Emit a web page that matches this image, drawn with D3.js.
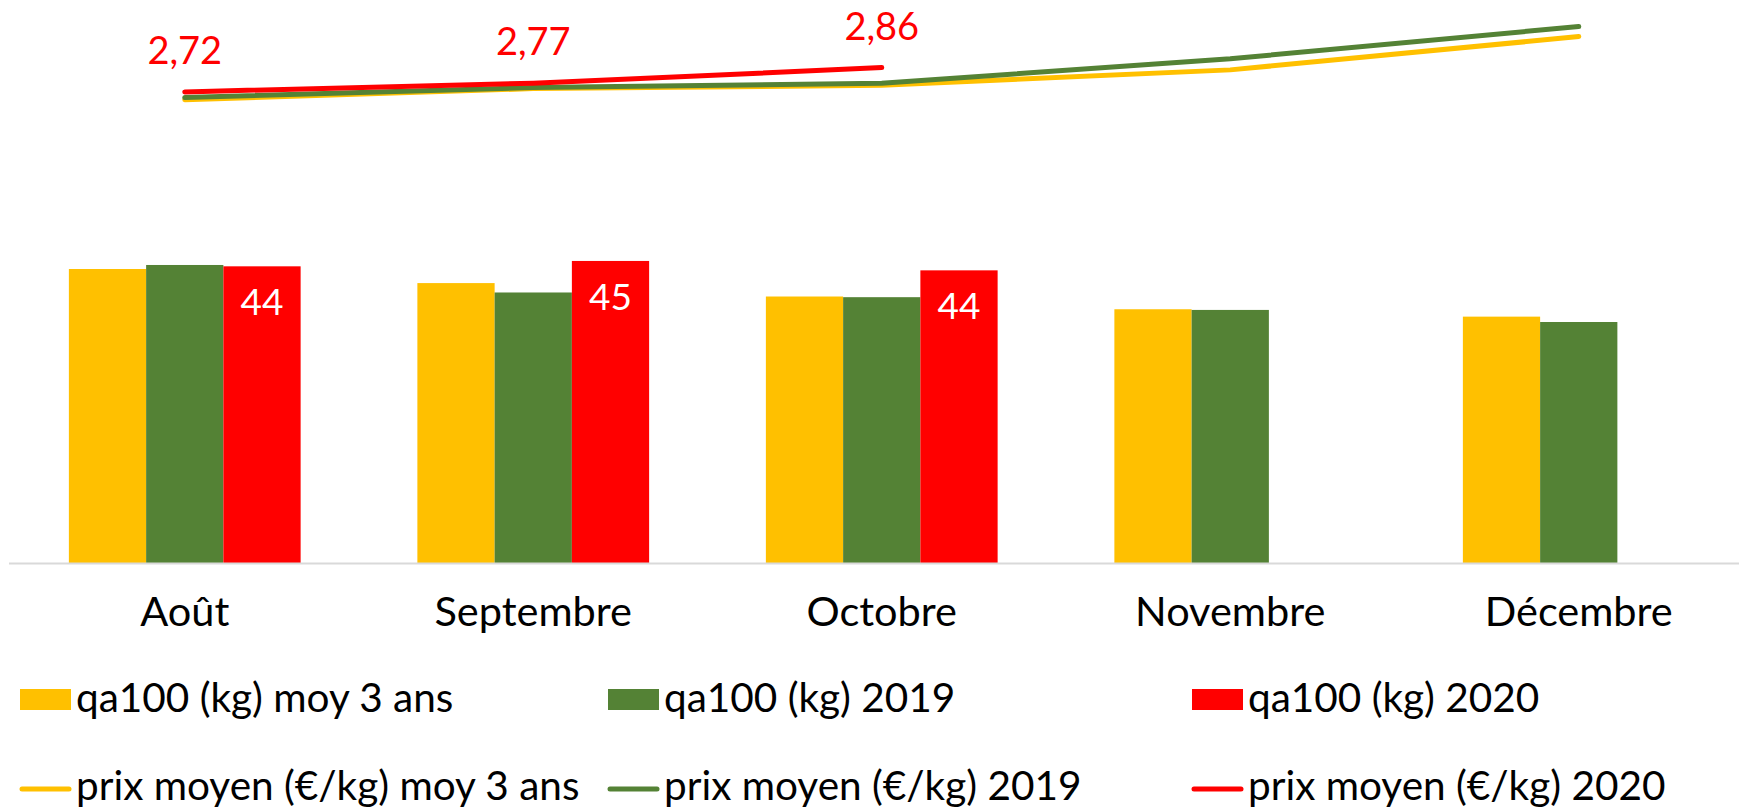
<!DOCTYPE html>
<html>
<head>
<meta charset="utf-8">
<script src="https://cdn.jsdelivr.net/npm/d3@7"></script>
<style>
	html, body { margin: 0; padding: 0; background: #fff; }
	svg { display: block; font-family: Lato, "Open Sans", sans-serif; }
</style>
</head>
<body>
<svg id="chart" width="1739" height="808"></svg>
<script>

// Months shown on the x axis
var months = ['Août', 'Septembre', 'Octobre', 'Novembre', 'Décembre'];

// qa100 (kg) per month
var qaMoy3Ans = [43.9, 41.8, 39.8, 37.9, 36.8];
var qa2019 = [44.5, 40.4, 39.7, 37.8, 36.0];
var qa2020 = [44.3, 45.1, 43.7];
var qa2020Labels = ['44', '45', '44'];

// prix moyen (€/kg) per month
var prixMoy3Ans = [2.675, 2.739, 2.758, 2.847, 3.039];
var prix2019 = [2.687, 2.745, 2.770, 2.911, 3.097];
var prix2020 = [2.72, 2.77, 2.86];

var legendBars = ['qa100 (kg) moy 3 ans', 'qa100 (kg) 2019', 'qa100 (kg) 2020'];
var legendLines = ['prix moyen (€/kg) moy 3 ans', 'prix moyen (€/kg) 2019', 'prix moyen (€/kg) 2020'];

var colors = ['#FFC000', '#548235', '#FF0000'];

var fr = d3.formatLocale({ decimal: ',', thousands: ' ', grouping: [3], currency: ['', ' €'] });
var fmtPrix = fr.format('.2f');

var svg = d3.select('#chart');
var baseY = 563.5;

var x = d3.scaleBand()
	.domain(months)
	.range([10.5, 1753])
	.paddingInner(0.335)
	.paddingOuter(0.1675);

var xSeries = d3.scaleBand()
	.domain([0, 1, 2])
	.range([0, x.bandwidth()]);

// primary axis for bars, secondary for prices
var yQa = d3.scaleLinear().domain([0, 84]).range([baseY, 0]);
var yPrix = d3.scaleLinear().domain([0, 3.25]).range([baseY, 0]);

drawBars();
drawAxis();
drawLines();
drawLegend();

function drawBars(){
	var series = [qaMoy3Ans, qa2019, qa2020];

	series.forEach(function(values, s) {
		svg.append('g')
			.selectAll('rect')
			.data(values)
			.enter().append('rect')
			.attr('x', function(d, i) { return x(months[i]) + xSeries(s); })
			.attr('y', function(d) { return yQa(d); })
			.attr('width', xSeries.bandwidth())
			.attr('height', function(d) { return baseY - yQa(d); })
			.attr('fill', colors[s]);
	});

	// white labels inside the 2020 bars
	svg.append('g')
		.selectAll('text')
		.data(qa2020)
		.enter().append('text')
		.attr('x', function(d, i) { return x(months[i]) + xSeries(2) + xSeries.bandwidth() / 2; })
		.attr('y', function(d) { return yQa(d) + 49; })
		.attr('text-anchor', 'middle')
		.style('font-size', '37px')
		.style('fill', '#fff')
		.text(function(d, i) { return qa2020Labels[i]; });
}

function drawAxis(){
	var axis = d3.axisBottom(x).tickSize(0).tickPadding(0);

	var g = svg.append('g')
		.attr('transform', 'translate(0,' + baseY + ')')
		.call(axis);

	g.select('.domain')
		.attr('d', 'M9,0H1739')
		.attr('stroke', '#d9d9d9')
		.attr('stroke-width', 2);

	g.selectAll('text')
		.attr('y', 62)
		.attr('dy', null)
		.style('font-family', 'Lato, "Open Sans", sans-serif')
		.style('font-size', '41.5px')
		.style('fill', '#000');
}

function drawLines(){
	var line = d3.line()
		.x(function(d, i) { return x(months[i]) + x.bandwidth() / 2; })
		.y(function(d) { return yPrix(d); });

	[prixMoy3Ans, prix2019, prix2020].forEach(function(values, s) {
		svg.append('path')
			.datum(values)
			.attr('d', line)
			.attr('fill', 'none')
			.attr('stroke', colors[s])
			.attr('stroke-width', 5)
			.attr('stroke-linecap', 'round')
			.attr('stroke-linejoin', 'round');
	});

	svg.append('g')
		.selectAll('text')
		.data(prix2020)
		.enter().append('text')
		.attr('x', function(d, i) { return x(months[i]) + x.bandwidth() / 2; })
		.attr('y', function(d) { return yPrix(d) - 28; })
		.attr('text-anchor', 'middle')
		.style('font-size', '38px')
		.style('fill', '#FF0000')
		.text(function(d) { return fmtPrix(d); });
}

function drawLegend(){
	var cols = [20, 608, 1192];

	var rows = svg.append('g').selectAll('g')
		.data(legendBars)
		.enter().append('g')
		.attr('transform', function(d, i) { return 'translate(' + cols[i] + ',0)'; });

	rows.append('rect')
		.attr('x', 0).attr('y', 689)
		.attr('width', 51).attr('height', 21)
		.attr('fill', function(d, i) { return colors[i]; });

	rows.append('text')
		.attr('x', 56).attr('y', 712)
		.style('font-size', '40.5px')
		.text(function(d) { return d; });

	var lines = svg.append('g').selectAll('g')
		.data(legendLines)
		.enter().append('g')
		.attr('transform', function(d, i) { return 'translate(' + cols[i] + ',0)'; });

	lines.append('line')
		.attr('x1', 2).attr('x2', 49)
		.attr('y1', 789).attr('y2', 789)
		.attr('stroke', function(d, i) { return colors[i]; })
		.attr('stroke-width', 5)
		.attr('stroke-linecap', 'round');

	lines.append('text')
		.attr('x', 56).attr('y', 800)
		.style('font-size', '40.5px')
		.text(function(d) { return d; });
}

</script>
</body>
</html>
